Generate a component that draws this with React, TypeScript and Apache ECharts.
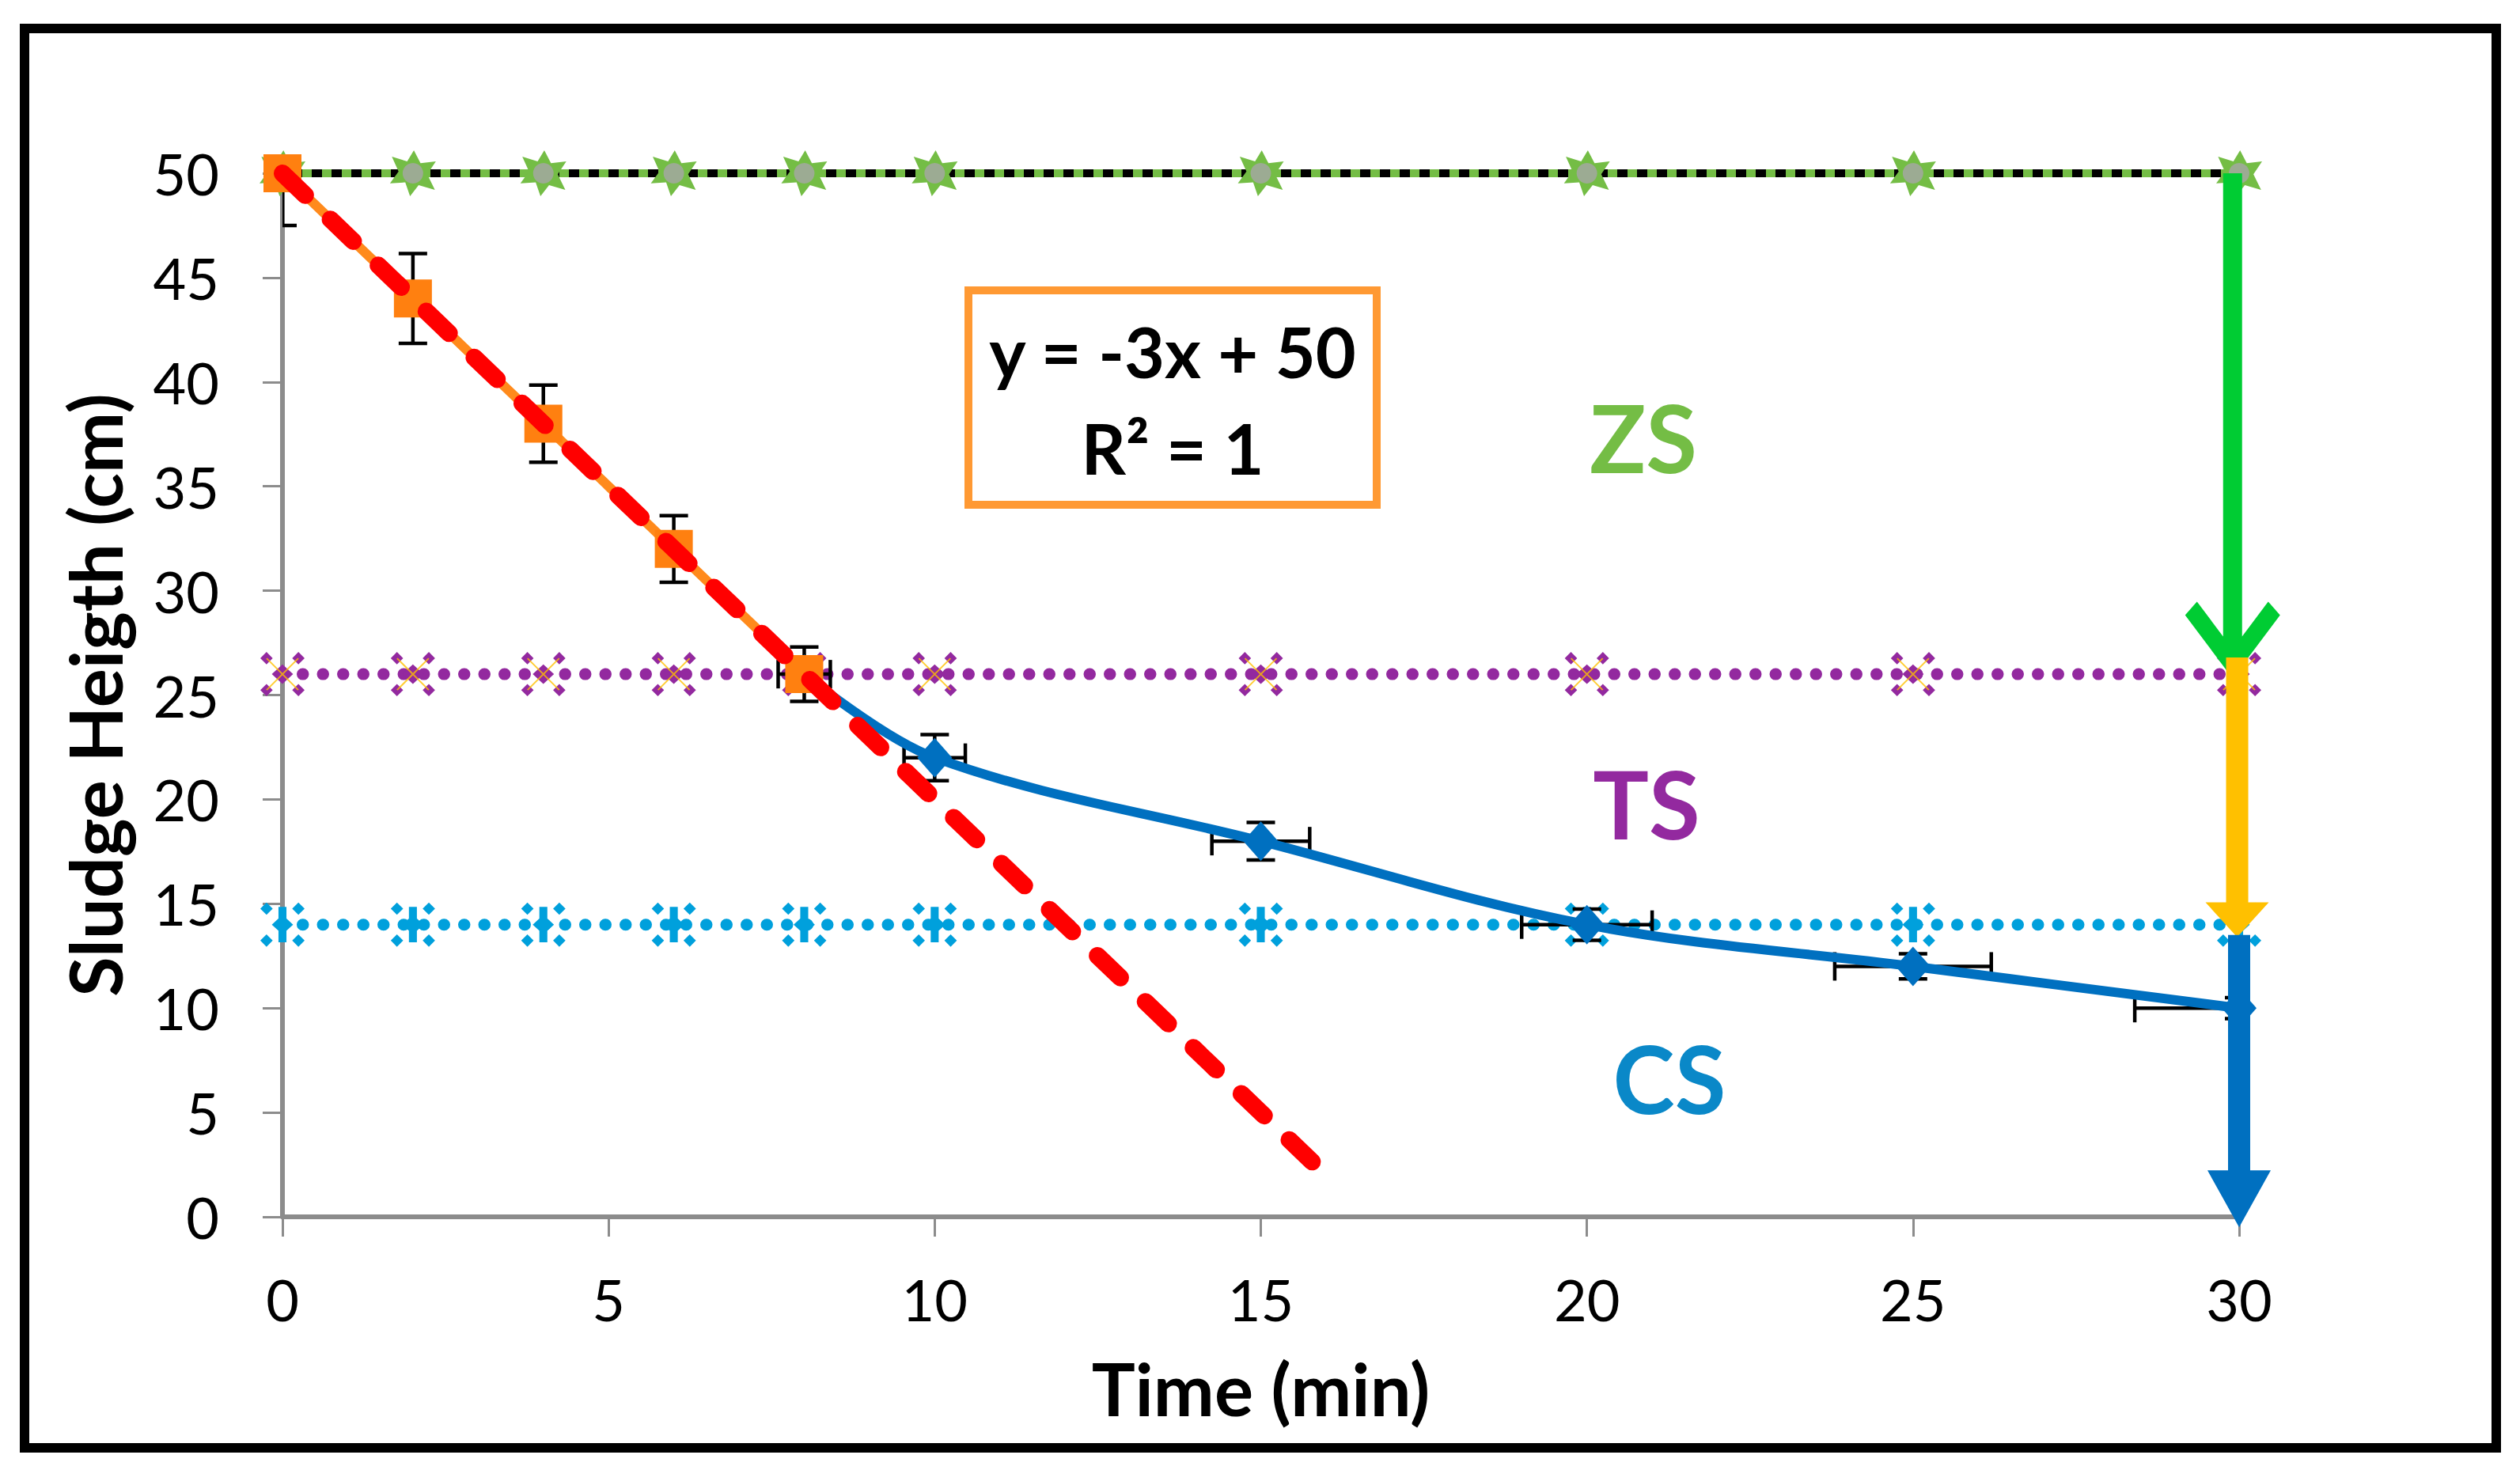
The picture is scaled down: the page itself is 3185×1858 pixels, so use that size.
import React, { useEffect, useRef } from 'react';
import * as echarts from 'echarts';

// ---------- data ----------
const timeX = [0, 2, 4, 6, 8, 10, 15, 20, 25, 30];
const zsLevel = [50, 50, 50, 50, 50, 50, 50, 50, 50, 50];
const tsLevel = [26, 26, 26, 26, 26, 26, 26, 26, 26, 26];
const csLevel = [14, 14, 14, 14, 14, 14, 14, 14, 14, 14];

const fitX = [0, 2, 4, 6, 8];
const fitY = [50, 44, 38, 32, 26];
const fitYErr = [2.5, 2.15, 1.85, 1.6, 1.3];

const slowX = [8, 10, 15, 20, 25, 30];
const slowY = [26, 22, 18, 14, 12, 10];
const slowXErr = [0.4, 0.47, 0.75, 1.0, 1.2, 1.6];
const slowYErr = [0, 1.1, 0.9, 0.75, 0.6, 0.5];

const trendX = [0, 15.8];
const trendY = [50, 2.6];

const arrowX = [29.9, 29.97, 30];
const arrowTop = [50, 26.8, 13.5];
const arrowTip = [25.8, 13.4, -0.5];
const arrowColors = ['#00CC33', '#FFC000', '#0070C0'];

const xMin = 0, xMax = 30, xStep = 5;
const yMin = 0, yMax = 50, yStep = 5;

const phaseLabels = ['ZS', 'TS', 'CS'];
const phaseColors = ['#74BD45', '#93299F', '#0A88C8'];
const equationLines = ['y = -3x + 50', 'R\u00B2 = 1'];

// ---------- symbols ----------
const flowerSymbol =
  'path://M50 0 L64 28 L96 24 L78 52 L94 86 L60 76 L42 100 L32 70 L0 72 L18 46 L4 14 L36 24 Z';
const quinSymbol =
  'path://M14 0 L28 14 L14 28 L0 14 Z M86 0 L100 14 L86 28 L72 14 Z M14 72 L28 86 L14 100 L0 86 Z M86 72 L100 86 L86 100 L72 86 Z M50 28 L74 50 L50 72 L26 50 Z';
const quinBarSymbol =
  'path://M14 0 L28 14 L14 28 L0 14 Z M86 0 L100 14 L86 28 L72 14 Z M14 72 L28 86 L14 100 L0 86 Z M86 72 L100 86 L86 100 L72 86 Z M50 28 L74 50 L50 72 L26 50 Z M41 10 L59 10 L59 90 L41 90 Z';
const crossSymbol = 'path://M0 0 L100 100 M100 0 L0 100';

const FONT = 'Lato, "Open Sans", sans-serif';

export default function App() {
  const ref = useRef<HTMLDivElement>(null);

  useEffect(() => {
    document.body.style.margin = '0';
    document.body.style.overflow = 'hidden';
    if (!ref.current) return;
    const chart = echarts.init(ref.current, undefined, { renderer: 'svg' });

    const pairs = (xs: number[], ys: number[]) => xs.map((x, i) => [x, ys[i]]);

    const fitErrData = fitX.map((x, i) => [x, fitY[i], 0, fitYErr[i]]);
    const slowErrData = slowX.map((x, i) => [x, slowY[i], slowXErr[i], slowYErr[i]]);
    const arrowData = arrowX.map((x, i) => [x, arrowTop[i], arrowTip[i], i]);

    const errRender = (params: any, api: any) => {
      const x = api.value(0), y = api.value(1), ex = api.value(2), ey = api.value(3);
      const cap = 18;
      const st = { stroke: '#000', lineWidth: 4.5 };
      const children: any[] = [];
      if (ey > 0) {
        const a = api.coord([x, y + ey]);
        const b = api.coord([x, y - ey]);
        children.push({ type: 'line', shape: { x1: a[0], y1: a[1], x2: b[0], y2: b[1] }, style: st });
        children.push({ type: 'line', shape: { x1: a[0] - cap, y1: a[1], x2: a[0] + cap, y2: a[1] }, style: st });
        children.push({ type: 'line', shape: { x1: b[0] - cap, y1: b[1], x2: b[0] + cap, y2: b[1] }, style: st });
      }
      if (ex > 0) {
        const a = api.coord([x - ex, y]);
        const b = api.coord([x + ex, y]);
        children.push({ type: 'line', shape: { x1: a[0], y1: a[1], x2: b[0], y2: b[1] }, style: st });
        children.push({ type: 'line', shape: { x1: a[0], y1: a[1] - cap, x2: a[0], y2: a[1] + cap }, style: st });
        children.push({ type: 'line', shape: { x1: b[0], y1: b[1] - cap, x2: b[0], y2: b[1] + cap }, style: st });
      }
      return { type: 'group', children };
    };

    const arrowRender = (params: any, api: any) => {
      const x = api.value(0), top = api.value(1), tip = api.value(2), k = api.value(3);
      const pTop = api.coord([x, top]);
      const pTip = api.coord([x, tip]);
      const cx = pTip[0], ty = pTip[1], t = pTop[1];
      let pts: number[][];
      if (k === 0) {
        const w = 12;
        pts = [
          [cx, ty], [cx - 60, ty - 80], [cx - 45, ty - 97], [cx - w, ty - 53],
          [cx - w, t], [cx + w, t], [cx + w, ty - 53], [cx + 45, ty - 97], [cx + 60, ty - 80],
        ];
      } else {
        const w = 14, hl = k === 1 ? 44 : 72, hw = 40;
        pts = [
          [cx - w, t], [cx + w, t], [cx + w, ty - hl], [cx + hw, ty - hl],
          [cx, ty], [cx - hw, ty - hl], [cx - w, ty - hl],
        ];
      }
      return { type: 'polygon', shape: { points: pts }, style: { fill: arrowColors[k] } };
    };

    const axisCommon = {
      type: 'value' as const,
      axisLine: { show: true, onZero: false, lineStyle: { color: '#8C8C8C', width: 6 } },
      axisTick: { show: true, length: 25, lineStyle: { color: '#8C8C8C', width: 3 } },
      splitLine: { show: false },
      nameLocation: 'middle' as const,
      nameTextStyle: { fontSize: 92, fontWeight: 'bold', fontFamily: FONT, color: '#000' },
    };

    const labelPos = [
      [2077, 552],
      [2081, 1015],
      [2110, 1362],
    ];

    const option: any = {
      animation: false,
      backgroundColor: '#fff',
      grid: { left: 357, right: 355, top: 219, bottom: 320, containLabel: false },
      xAxis: {
        ...axisCommon,
        min: xMin,
        max: xMax,
        interval: xStep,
        name: 'Time (min)',
        nameGap: 170,
        axisLabel: { fontSize: 72, color: '#000', fontFamily: FONT, margin: 68 },
      },
      yAxis: {
        ...axisCommon,
        min: yMin,
        max: yMax,
        interval: yStep,
        name: 'Sludge Heigth (cm)',
        nameGap: 192,
        axisLabel: { fontSize: 72, color: '#000', fontFamily: FONT, margin: 80 },
      },
      series: [
        // CS level
        {
          type: 'line',
          data: pairs(timeX, csLevel),
          lineStyle: { color: '#00A0DC', width: 15, type: [0.5, 25], cap: 'round' },
          symbol: quinBarSymbol,
          symbolSize: 56,
          itemStyle: { color: '#00A0DC' },
          z: 2,
        },
        // TS level
        {
          type: 'line',
          data: pairs(timeX, tsLevel),
          lineStyle: { color: '#93299F', width: 15, type: [0.5, 25], cap: 'round' },
          symbol: quinSymbol,
          symbolSize: 56,
          itemStyle: { color: '#93299F' },
          z: 2,
        },
        {
          type: 'scatter',
          data: pairs(timeX, tsLevel),
          symbol: crossSymbol,
          symbolSize: 40,
          itemStyle: { color: 'transparent', borderColor: '#FFC000', borderWidth: 2 },
          z: 2,
        },
        // ZS level (black base + green dots)
        {
          type: 'line',
          data: pairs(timeX, zsLevel),
          lineStyle: { color: '#000', width: 10 },
          symbol: 'none',
          z: 2,
        },
        {
          type: 'line',
          data: pairs(timeX, zsLevel),
          lineStyle: { color: '#74BD45', width: 10, type: [12, 13] },
          symbol: flowerSymbol,
          symbolSize: 58,
          itemStyle: { color: '#74BD45' },
          z: 2,
        },
        {
          type: 'scatter',
          data: pairs(timeX, zsLevel),
          symbol: 'circle',
          symbolSize: 26,
          itemStyle: { color: '#A6A6A6' },
          z: 2,
        },
        // error bars
        {
          type: 'custom',
          renderItem: errRender,
          data: slowErrData,
          encode: { x: 0, y: 1 },
          clip: true,
          z: 3,
        },
        {
          type: 'custom',
          renderItem: errRender,
          data: fitErrData,
          encode: { x: 0, y: 1 },
          clip: true,
          z: 3,
        },
        // slow settling (blue)
        {
          type: 'line',
          data: pairs(slowX, slowY),
          smooth: 0.35,
          lineStyle: { color: '#0070C0', width: 12 },
          symbol: 'diamond',
          symbolSize: [44, 50],
          itemStyle: { color: '#0070C0' },
          z: 4,
        },
        // linear zone (orange)
        {
          type: 'line',
          data: pairs(fitX, fitY),
          lineStyle: { color: '#FF8A1C', width: 12 },
          symbol: 'rect',
          symbolSize: 48,
          itemStyle: { color: '#FF8010' },
          z: 5,
        },
        // trend line
        {
          type: 'line',
          data: pairs(trendX, trendY),
          lineStyle: { color: '#FF0000', width: 22, type: [40, 44], cap: 'round' },
          symbol: 'none',
          z: 6,
        },
        // arrows
        {
          type: 'custom',
          renderItem: arrowRender,
          data: arrowData,
          encode: { x: 0, y: 1 },
          clip: false,
          z: 7,
        },
      ],
      graphic: [
        {
          type: 'rect',
          shape: { x: 31, y: 36, width: 3124, height: 1794 },
          style: { fill: 'none', stroke: '#000', lineWidth: 12 },
          z: 100,
        },
        {
          type: 'rect',
          shape: { x: 1224, y: 367, width: 516, height: 271 },
          style: { fill: '#fff', stroke: '#FF9933', lineWidth: 10 },
          z: 100,
        },
        {
          type: 'text',
          x: 1482,
          y: 444,
          style: {
            text: equationLines[0],
            fontSize: 88,
            fontWeight: 'bold',
            fontFamily: FONT,
            fill: '#000',
            align: 'center',
            verticalAlign: 'middle',
          },
          z: 101,
        },
        {
          type: 'text',
          x: 1482,
          y: 566,
          style: {
            text: equationLines[1],
            fontSize: 88,
            fontWeight: 'bold',
            fontFamily: FONT,
            fill: '#000',
            align: 'center',
            verticalAlign: 'middle',
          },
          z: 101,
        },
        ...phaseLabels.map((t, i) => ({
          type: 'text',
          x: labelPos[i][0],
          y: labelPos[i][1],
          style: {
            text: t,
            fontSize: 118,
            fontWeight: 'bold',
            fontFamily: FONT,
            fill: phaseColors[i],
            align: 'center',
            verticalAlign: 'middle',
          },
          z: 101,
        })),
      ],
    };

    chart.setOption(option);
    return () => chart.dispose();
  }, []);

  return <div ref={ref} style={{ width: 3185, height: 1858 }} />;
}
